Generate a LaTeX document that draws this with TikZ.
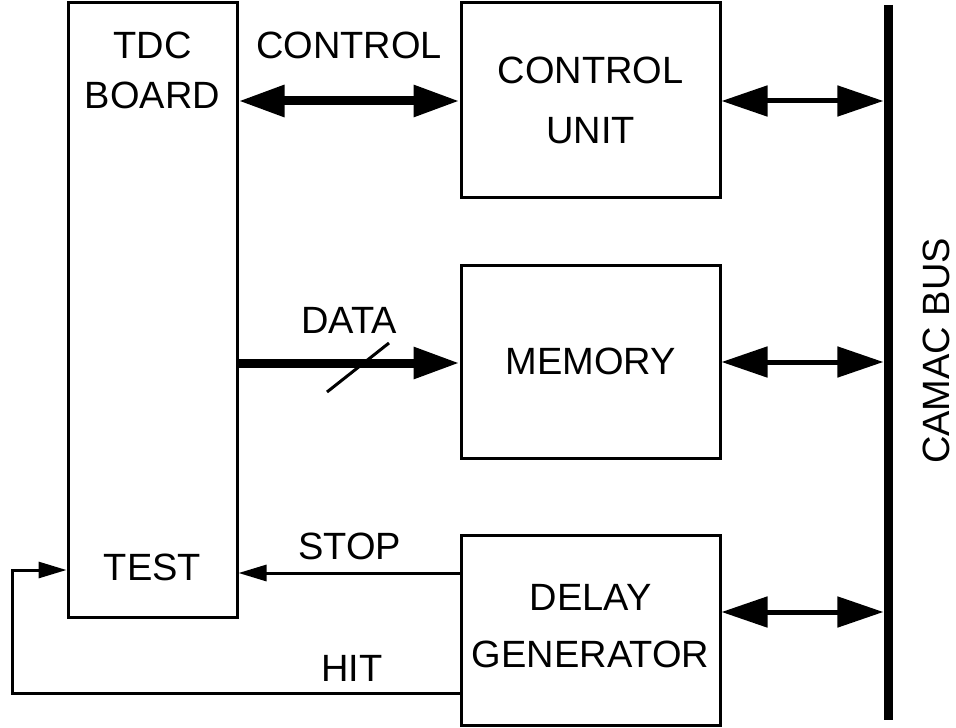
\documentclass[tikz,border=0pt]{standalone}
\usepackage{fontspec}
\setmainfont{Liberation Sans}
\usetikzlibrary{arrows.meta}
\tikzset{bigtip/.tip={Triangle[length=23pt,width=15pt]},
         smalltip/.tip={Triangle[length=14pt,width=8pt]}}
\begin{document}
\begin{tikzpicture}[x=0.5pt, y=-0.5pt,
    box/.style={draw, line width=1.5pt, inner sep=0pt},
    lbl/.style={font=\fontsize{19}{22}\selectfont, inner sep=0pt, align=center},
    fatarrow/.style={line width=4.5pt},
    busarrow/.style={line width=2.5pt, bigtip-bigtip, shorten >=2.3pt},
    thinarrow/.style={line width=1.5pt, -smalltip}]
  \useasboundingbox (0,0) rectangle (956,727);
  % blocks
  \node [box, minimum width=84.5pt, minimum height=307pt] (board) at (152.5,310) {};
  \node [box, minimum width=129.5pt, minimum height=97pt] (ctrl) at (590.5,100) {};
  \node [box, minimum width=129.5pt, minimum height=96.5pt] (mem) at (590.5,361.5) {};
  \node [box, minimum width=129.5pt, minimum height=95pt] (delay) at (590.5,630) {};
  \coordinate (bustop) at (888,5);
  \coordinate (busbot) at (888,720);
  \draw [line width=4.5pt] (bustop)--(busbot);
  % texts
  \node [lbl, font=\fontsize{19}{25}\selectfont] (brdname) at (152.5,70) {TDC\\BOARD};
  \node [lbl] (test) at (152.5,567) {TEST};
  \node [lbl, font=\fontsize{19}{30}\selectfont] (ctrlname) at (ctrl.center) {CONTROL\\UNIT};
  \node [lbl] (memname) at (mem.center) {MEMORY};
  \node [lbl, font=\fontsize{19}{28.5}\selectfont] (delayname) at (590.5,626.5) {DELAY\\GENERATOR};
  \node [lbl, rotate=90] (busname) at (936,351) {CAMAC BUS};
  % signals
  \draw [fatarrow, bigtip-bigtip] (board.east |- 0,101)--node [lbl, above=19pt]{CONTROL}(ctrl.west |- 0,101);
  \draw [fatarrow, -bigtip] (board.east |- 0,363)--node [lbl, above=12.5pt]{DATA}(mem.west |- 0,363);
  \draw [line width=1.5pt] (327,392)--(389,343);
  \coordinate (stopout) at (461,573);
  \draw [thinarrow] (stopout)--node [lbl, above=6pt]{STOP}(board.east |- stopout);
  \coordinate (hitout) at (461,693);
  \coordinate (hitturn) at (12,570);
  \draw [thinarrow] (hitout)-|(hitturn)--(board.west |- hitturn);
  \node [lbl] (hit) at (352,668) {HIT};
  % to the bus
  \draw [busarrow] (ctrl.east |- 0,101)--(bustop |- 0,101);
  \draw [busarrow] (mem.east |- 0,362)--(bustop |- 0,362);
  \draw [busarrow] (delay.east |- 0,612)--(bustop |- 0,612);
\end{tikzpicture}
\end{document}
